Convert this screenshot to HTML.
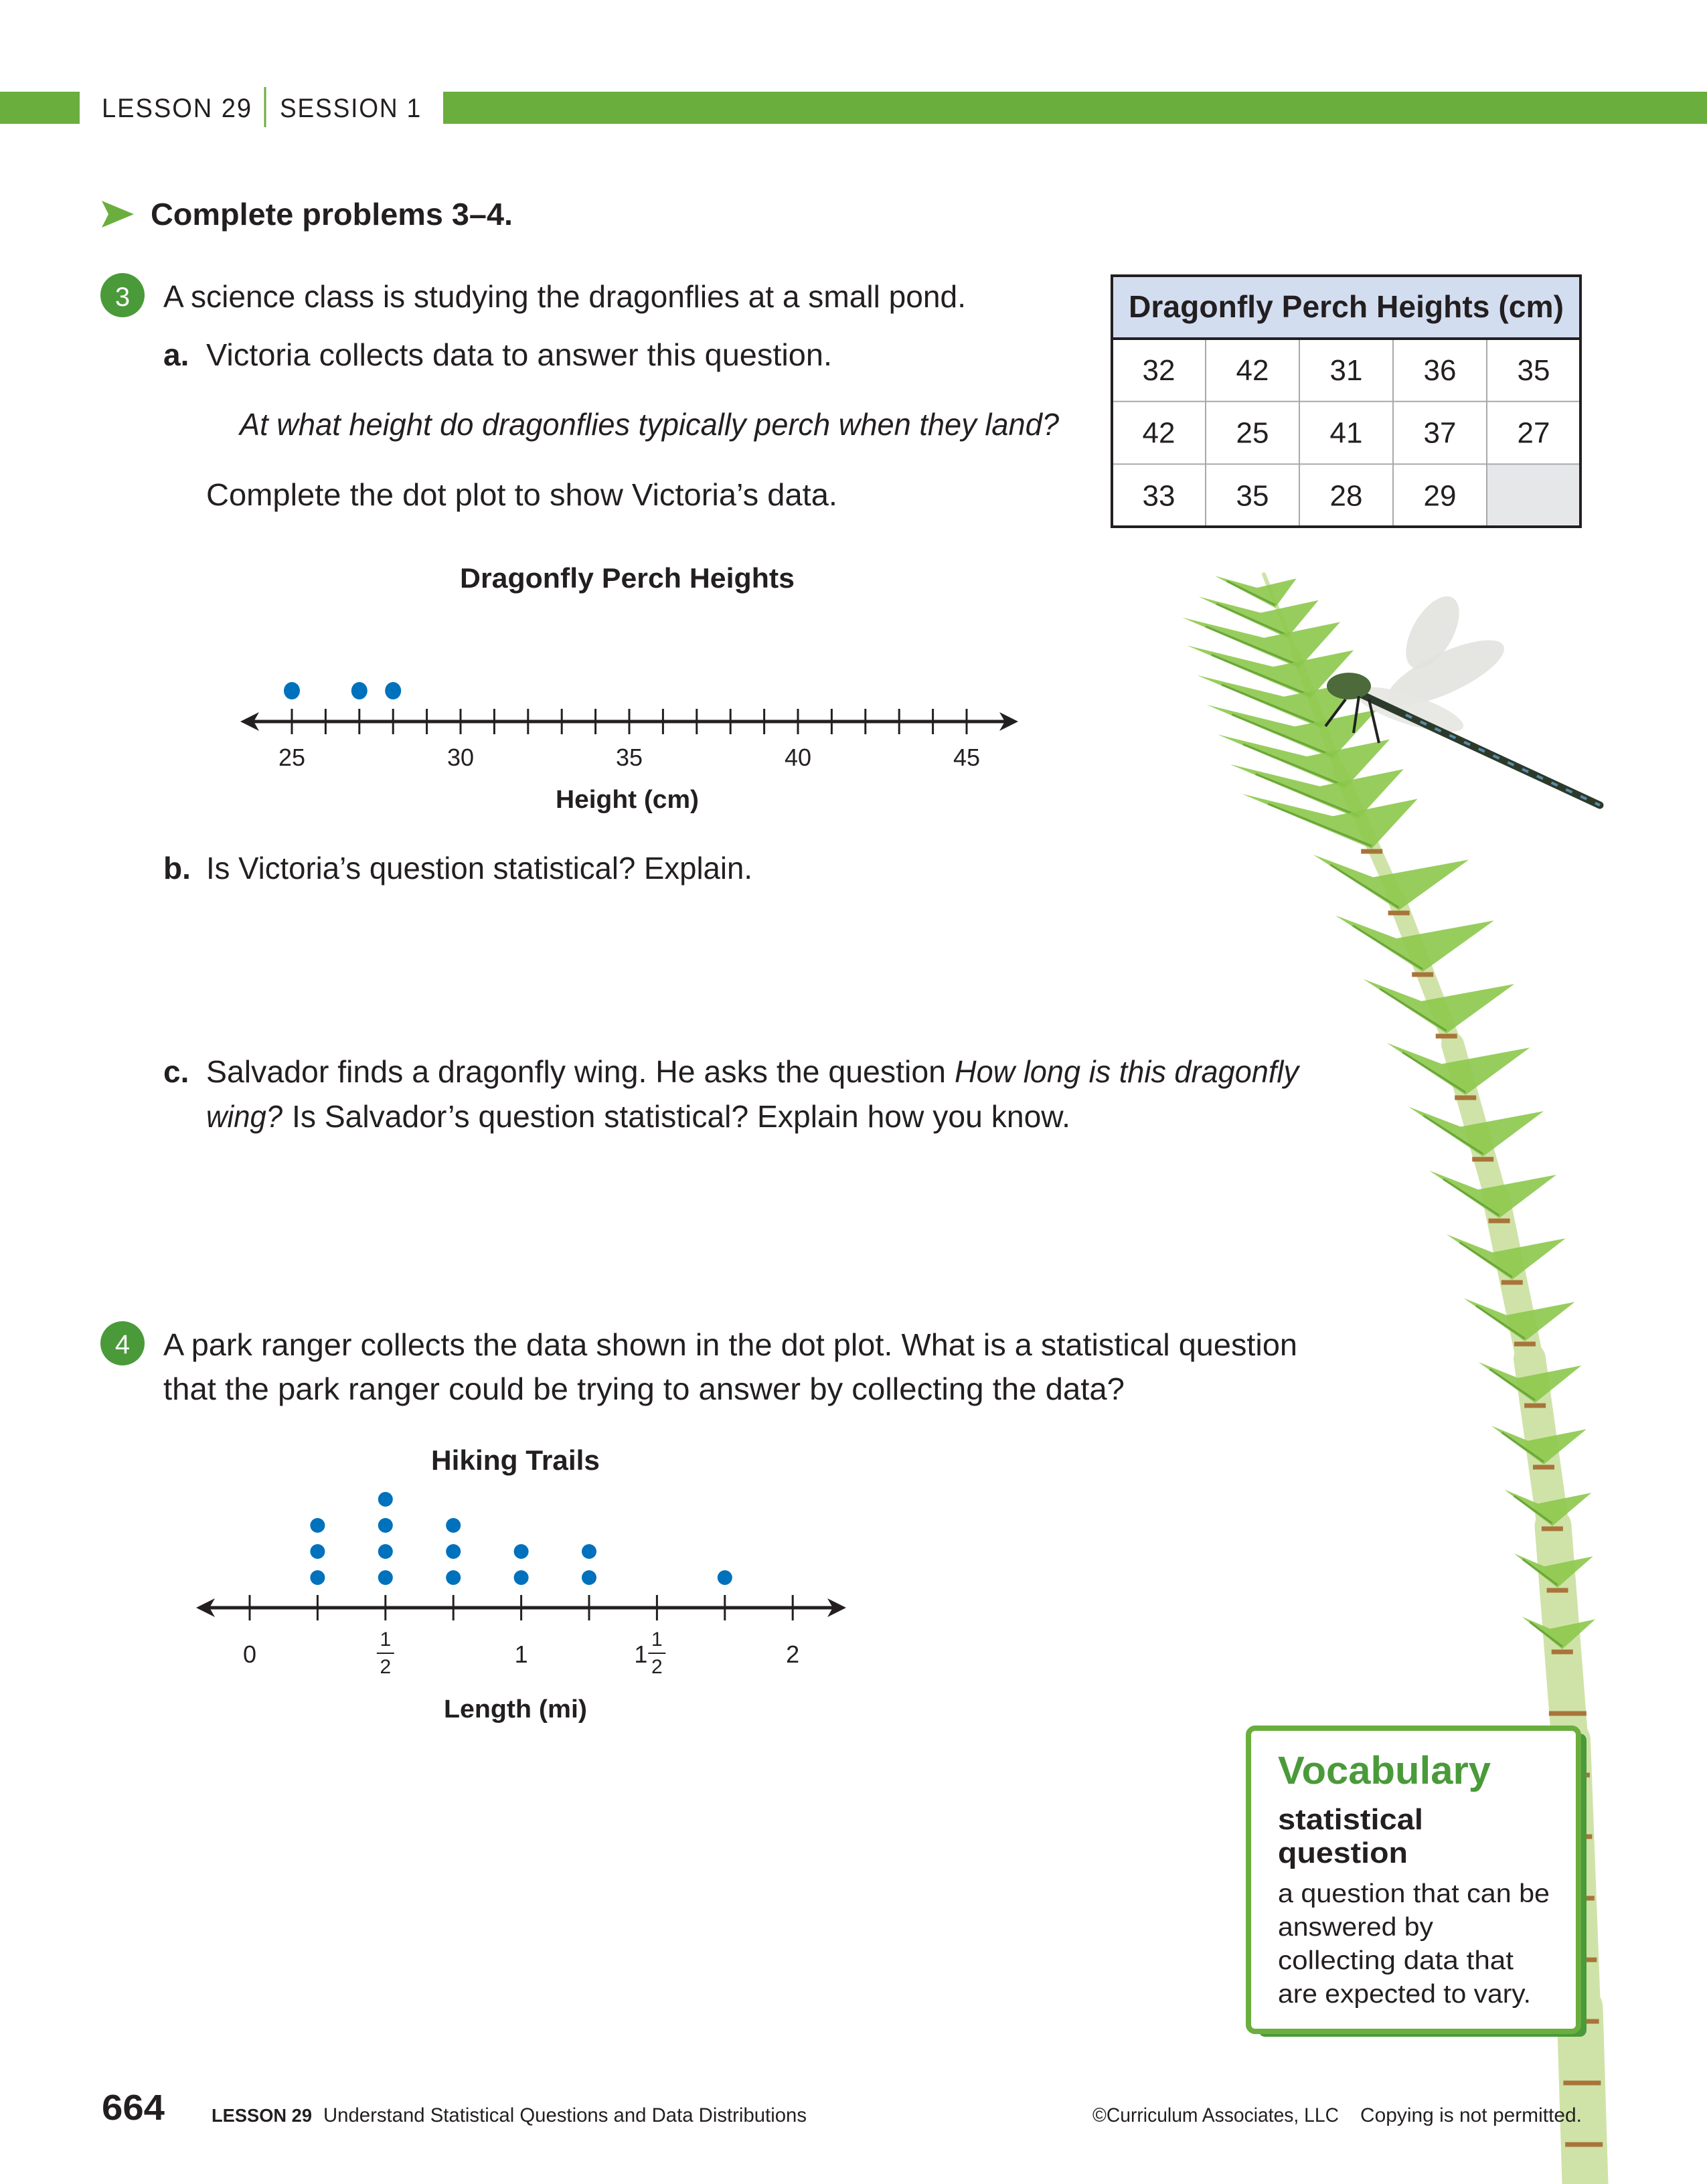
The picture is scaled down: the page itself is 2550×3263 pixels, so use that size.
<!DOCTYPE html>
<html><head><meta charset="utf-8"><style>
html,body{margin:0;padding:0;background:#fff;}
svg{display:block;font-family:"Liberation Sans",sans-serif;}
</style></head><body>
<svg id="page" width="2550" height="3263" viewBox="0 0 2550 3263" xmlns="http://www.w3.org/2000/svg">
<rect width="2550" height="3263" fill="#fff"/>
<g>
<rect x="0" y="137" width="119" height="48" fill="#6aae3d"/>
<rect x="662" y="137" width="1888" height="48" fill="#6aae3d"/>
<text x="152" y="175" font-size="40" fill="#231f20" letter-spacing="2" textLength="225" lengthAdjust="spacingAndGlyphs">LESSON 29</text>
<line x1="396" y1="130" x2="396" y2="190" stroke="#6aae3d" stroke-width="3"/>
<text x="418" y="175" font-size="40" fill="#231f20" letter-spacing="2" textLength="212" lengthAdjust="spacingAndGlyphs">SESSION 1</text>
</g>
<g>
<polygon points="152,300 200,320 152,340 162,320" fill="#6aae3d"/>
<text x="225" y="336" font-size="46" font-weight="bold" fill="#231f20" textLength="541" lengthAdjust="spacingAndGlyphs">Complete problems 3–4.</text>
</g>
<!-- plant (decorative, behind) -->
<g id="plant"></g>
<g>
<circle cx="183" cy="441" r="33" fill="#4a9a3a"/>
<text x="183" y="457" font-size="40" fill="#fff" text-anchor="middle">3</text>
<text x="244" y="459" font-size="46" fill="#231f20" textLength="1199" lengthAdjust="spacingAndGlyphs">A science class is studying the dragonflies at a small pond.</text>
<text x="244" y="546" font-size="46" font-weight="bold" fill="#231f20">a.</text>
<text x="308" y="546" font-size="46" fill="#231f20" textLength="935" lengthAdjust="spacingAndGlyphs">Victoria collects data to answer this question.</text>
<text x="358" y="650" font-size="46" font-style="italic" fill="#231f20" textLength="1224" lengthAdjust="spacingAndGlyphs">At what height do dragonflies typically perch when they land?</text>
<text x="308" y="755" font-size="46" fill="#231f20" textLength="943" lengthAdjust="spacingAndGlyphs">Complete the dot plot to show Victoria’s data.</text>
<text x="244" y="1313" font-size="46" font-weight="bold" fill="#231f20">b.</text>
<text x="308" y="1313" font-size="46" fill="#231f20" textLength="816" lengthAdjust="spacingAndGlyphs">Is Victoria’s question statistical? Explain.</text>
<text x="244" y="1617" font-size="46" font-weight="bold" fill="#231f20">c.</text>
<text x="308" y="1617" font-size="46" fill="#231f20" textLength="1105" lengthAdjust="spacingAndGlyphs">Salvador finds a dragonfly wing. He asks the question</text>
<text x="1426" y="1617" font-size="46" font-style="italic" fill="#231f20" textLength="514" lengthAdjust="spacingAndGlyphs">How long is this dragonfly</text>
<text x="308" y="1684" font-size="46" font-style="italic" fill="#231f20" textLength="114" lengthAdjust="spacingAndGlyphs">wing?</text>
<text x="436" y="1684" font-size="46" fill="#231f20" textLength="1163" lengthAdjust="spacingAndGlyphs">Is Salvador’s question statistical? Explain how you know.</text>
</g>
<g id="tbl">
<rect x="1661" y="412" width="700" height="375" fill="#fff"/>
<rect x="1661" y="412" width="700" height="94" fill="#d3ddf0"/>
<text x="2011" y="474" font-size="46" font-weight="bold" fill="#231f20" text-anchor="middle" textLength="650" lengthAdjust="spacingAndGlyphs">Dragonfly Perch Heights (cm)</text>
<rect x="2221" y="693" width="140" height="94" fill="#e6e7e8"/>
</g>
<g id="plot1">
<text x="937" y="878" font-size="42" font-weight="bold" fill="#231f20" text-anchor="middle" textLength="500" lengthAdjust="spacingAndGlyphs">Dragonfly Perch Heights</text>
<text x="937" y="1207" font-size="38" font-weight="bold" fill="#231f20" text-anchor="middle" textLength="214" lengthAdjust="spacingAndGlyphs">Height (cm)</text>
</g>
<g>
<circle cx="183" cy="2007" r="33" fill="#4a9a3a"/>
<text x="183" y="2022" font-size="40" fill="#fff" text-anchor="middle">4</text>
<text x="244" y="2025" font-size="46" fill="#231f20" textLength="1694" lengthAdjust="spacingAndGlyphs">A park ranger collects the data shown in the dot plot. What is a statistical question</text>
<text x="244" y="2091" font-size="46" fill="#231f20" textLength="1436" lengthAdjust="spacingAndGlyphs">that the park ranger could be trying to answer by collecting the data?</text>
</g>
<g id="plot2">
<text x="770" y="2196" font-size="42" font-weight="bold" fill="#231f20" text-anchor="middle" textLength="252" lengthAdjust="spacingAndGlyphs">Hiking Trails</text>
<text x="770" y="2566" font-size="38" font-weight="bold" fill="#231f20" text-anchor="middle" textLength="214" lengthAdjust="spacingAndGlyphs">Length (mi)</text>
</g>
<g>
<ellipse cx="2140" cy="945" rx="30" ry="60" fill="#e2e2de" opacity="0.9" transform="rotate(30 2140 945)"/>
<ellipse cx="2160" cy="1005" rx="95" ry="30" fill="#e2e2de" opacity="0.9" transform="rotate(-25 2160 1005)"/>
<ellipse cx="2105" cy="1060" rx="85" ry="22" fill="#e6e6e2" opacity="0.9" transform="rotate(18 2105 1060)"/>
<line x1="2000" y1="1022" x2="2390" y2="1203" stroke="#2b3a2a" stroke-width="11" stroke-linecap="round"/>
<line x1="2100" y1="1068" x2="2390" y2="1203" stroke="#5a8aa8" stroke-width="4" stroke-dasharray="10 14"/>
<ellipse cx="2015" cy="1025" rx="33" ry="20" fill="#4c6a3a"/>
<path d="M2030 1040 l-8 55 M2045 1045 l15 65 M2010 1045 l-30 40" stroke="#222" stroke-width="4" fill="none"/>
</g>
<g>
<rect x="1880" y="2590" width="490" height="453" rx="10" fill="#4a9a3a"/>
<rect x="1865" y="2582" width="493" height="453" rx="10" fill="#fff" stroke="#6aae3d" stroke-width="8"/>
<text x="1909" y="2665" font-size="58" font-weight="bold" fill="#4a9a3a" textLength="318" lengthAdjust="spacingAndGlyphs">Vocabulary</text>
<text x="1909" y="2733" font-size="44" font-weight="bold" fill="#231f20" textLength="217" lengthAdjust="spacingAndGlyphs">statistical</text>
<text x="1909" y="2783" font-size="44" font-weight="bold" fill="#231f20" textLength="194" lengthAdjust="spacingAndGlyphs">question</text>
<text x="1909" y="2842" font-size="39" fill="#231f20" textLength="406" lengthAdjust="spacingAndGlyphs">a question that can be</text>
<text x="1909" y="2892" font-size="39" fill="#231f20" textLength="232" lengthAdjust="spacingAndGlyphs">answered by</text>
<text x="1909" y="2942" font-size="39" fill="#231f20" textLength="352" lengthAdjust="spacingAndGlyphs">collecting data that</text>
<text x="1909" y="2992" font-size="39" fill="#231f20" textLength="378" lengthAdjust="spacingAndGlyphs">are expected to vary.</text>
</g>
<g>
<text x="152" y="3167" font-size="54" font-weight="bold" fill="#231f20" textLength="94" lengthAdjust="spacingAndGlyphs">664</text>
<text x="316" y="3170" font-size="28" font-weight="bold" fill="#231f20" textLength="150" lengthAdjust="spacingAndGlyphs">LESSON 29</text>
<text x="483" y="3170" font-size="30" fill="#231f20" textLength="722" lengthAdjust="spacingAndGlyphs">Understand Statistical Questions and Data Distributions</text>
<text x="1632" y="3170" font-size="30" fill="#231f20" textLength="368" lengthAdjust="spacingAndGlyphs">©Curriculum Associates, LLC</text>
<text x="2032" y="3170" font-size="30" fill="#231f20" textLength="331" lengthAdjust="spacingAndGlyphs">Copying is not permitted.</text>
</g>
</svg>
<script>
const NS="http://www.w3.org/2000/svg";
function mk(tag,attrs,parent,txt){const e=document.createElementNS(NS,tag);for(const k in attrs)e.setAttribute(k,attrs[k]);if(txt!==undefined)e.textContent=txt;parent.appendChild(e);return e;}

const tableRows=[[32,42,31,36,35],[42,25,41,37,27],[33,35,28,29,null]];
const perchTicks=[25,26,27,28,29,30,31,32,33,34,35,36,37,38,39,40,41,42,43,44,45];
const perchTickLabels=[25,30,35,40,45];
const perchPlotted=[25,27,28];
const hikeTicks=[0,0.25,0.5,0.75,1,1.25,1.5,1.75,2];
const hikeLengths=[0.25,0.25,0.25,0.5,0.5,0.5,0.5,0.75,0.75,0.75,1,1,1.25,1.25,1.75];

const tbl=document.getElementById('tbl');
tableRows.forEach((row,r)=>{row.forEach((v,c)=>{
  if(v===null)return;
  const t=mk('text',{x:1661+70+c*140,y:506+r*93.7+62,'font-size':44,fill:'#231f20','text-anchor':'middle'},tbl,String(v));
  
  
});});
for(let c=1;c<5;c++)mk('line',{x1:1661+c*140,y1:506,x2:1661+c*140,y2:787,stroke:'#a7a9ac','stroke-width':2},tbl);
for(let r=1;r<3;r++)mk('line',{x1:1661,y1:506+r*93.7,x2:2361,y2:506+r*93.7,stroke:'#a7a9ac','stroke-width':2},tbl);
mk('line',{x1:1661,y1:506,x2:2361,y2:506,stroke:'#231f20','stroke-width':4},tbl);
mk('rect',{x:1661,y:412,width:700,height:375,fill:'none',stroke:'#231f20','stroke-width':4},tbl);

function numberLine(g,y,x1,x2){
  mk('line',{x1:x1+20,y1:y,x2:x2-20,y2:y,stroke:'#231f20','stroke-width':5},g);
  mk('polygon',{points:`${x1},${y} ${x1+28},${y-14} ${x1+20},${y} ${x1+28},${y+14}`,fill:'#231f20'},g);
  mk('polygon',{points:`${x2},${y} ${x2-28},${y-14} ${x2-20},${y} ${x2-28},${y+14}`,fill:'#231f20'},g);
}
const p1=document.getElementById('plot1');
const x1s=v=>436+(v-25)*50.4;
numberLine(p1,1078,359,1521);
perchTicks.forEach(v=>{const l=mk('line',{x1:x1s(v),y1:1059,x2:x1s(v),y2:1097,stroke:'#231f20','stroke-width':3},p1);
  
  });
perchTickLabels.forEach(v=>{const t=mk('text',{x:x1s(v),y:1144,'font-size':36,fill:'#231f20','text-anchor':'middle'},p1,String(v));
  
  });
const cnt1={};
perchPlotted.forEach(v=>{const k=cnt1[v]||0;cnt1[v]=k+1;
  const d=mk('ellipse',{cx:x1s(v),cy:1032-k*39,rx:12,ry:13,fill:'#0071bc'},p1);
  
  });

const p2=document.getElementById('plot2');
const x2s=v=>373+v*405.6;
numberLine(p2,2402,293,1264);
hikeTicks.forEach(v=>{const l=mk('line',{x1:x2s(v),y1:2383,x2:x2s(v),y2:2421,stroke:'#231f20','stroke-width':3},p2);
  
  });
[[0,'0'],[1,'1'],[2,'2']].forEach(([v,s])=>{const t=mk('text',{x:x2s(v),y:2484,'font-size':36,fill:'#231f20','text-anchor':'middle'},p2,s);
  
  });
[[0.5,''],[1.5,'1']].forEach(([v,w])=>{const cx=x2s(v);
  if(w){mk('text',{x:cx-14,y:2484,'font-size':36,fill:'#231f20','text-anchor':'end'},p2,w);}
  mk('text',{x:cx,y:2459,'font-size':30,fill:'#231f20','text-anchor':'middle'},p2,'1');
  mk('line',{x1:cx-13,y1:2470,x2:cx+13,y2:2470,stroke:'#231f20','stroke-width':2},p2);
  const d=mk('text',{x:cx,y:2500,'font-size':30,fill:'#231f20','text-anchor':'middle'},p2,'2');
  
  });
const cnt2={};
hikeLengths.forEach(v=>{const k=cnt2[v]||0;cnt2[v]=k+1;
  const d=mk('ellipse',{cx:x2s(v),cy:2357-k*39,rx:11,ry:11,fill:'#0071bc'},p2);
  
  });

// plant (decorative)
const pl=document.getElementById('plant');
const stem=[[1888,858],[1935,975],[2000,1150],[2085,1340],[2170,1560],[2235,1790],[2285,2030],[2320,2280],[2345,2600],[2360,3000],[2368,3263]];
for(let i=0;i<stem.length-1;i++){
  const [ax,ay]=stem[i],[bx,by]=stem[i+1];
  mk('line',{x1:ax,y1:ay,x2:bx,y2:by,stroke:'#cfe3a8','stroke-width':6+i*7,'stroke-linecap':'round'},pl);
}
function stemAt(y){for(let i=0;i<stem.length-1;i++){const [ax,ay]=stem[i],[bx,by]=stem[i+1];if(y>=ay&&y<=by){return ax+(bx-ax)*(y-ay)/(by-ay);}}return stem[stem.length-1][0];}
function widthAt(y){if(y<1000)return 60+(y-858)*1.1;if(y<1450)return 215+(y-1000)*0.05;return Math.max(110,237-(y-1450)*0.13);}
let y=900;
while(y<2470){
  const cx=stemAt(y),W=widthAt(y),h=W*0.28+10;
  const a=y<1300?W*0.85:W*0.55,b=y<1300?W*0.3:W*0.45;
  mk('polygon',{points:`${cx},${y+8} ${cx-a},${y-h} ${cx-a*0.3},${y-h*0.55} ${cx+b},${y-h*0.9}`,fill:'#8cc84b',opacity:0.9},pl);
  mk('line',{x1:cx-a*0.8,y1:y-h*0.8,x2:cx,y2:y+4,stroke:'#6aa63a','stroke-width':3},pl);
  if(y>1250)mk('line',{x1:cx-16,y1:y+12,x2:cx+16,y2:y+12,stroke:'#a8743a','stroke-width':7},pl);
  y+= y<1250?45:92;
}
for(let yy=2560;yy<3263;yy+=92){const cx=stemAt(yy);mk('line',{x1:cx-28,y1:yy,x2:cx+28,y2:yy,stroke:'#a8743a','stroke-width':7},pl);}
</script>
</body></html>
